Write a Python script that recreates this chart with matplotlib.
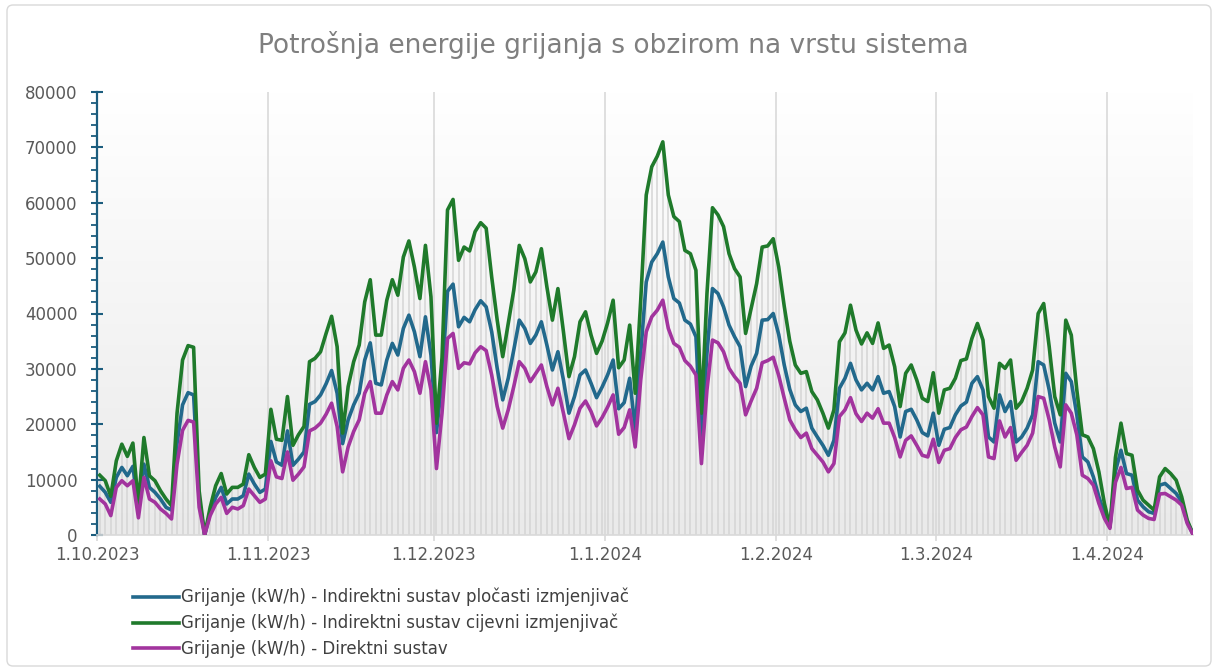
import numpy as np
import pandas as pd
import matplotlib
matplotlib.use("Agg")
import matplotlib.pyplot as plt
import matplotlib.dates as mdates
from matplotlib.colors import LinearSegmentedColormap
from matplotlib.lines import Line2D
from matplotlib.patches import FancyBboxPatch
from matplotlib.ticker import MultipleLocator

# daily values in thousands of kWh, starting 1.10.2023
start = pd.Timestamp("2023-10-01")

plocasti = [
    8.8, 7.7, 5.9, 10.4, 12.2, 10.7, 12.4, 4.7, 12.8, 8.6,
    7.7, 6.5, 5.0, 4.5, 16.5, 23.5, 25.7, 25.3, 6.5, 0.0,
    4.0, 6.8, 8.6, 5.6, 6.5, 6.5, 7.1, 11.0, 9.2, 7.7,
    8.3, 16.9, 13.2, 12.6, 18.8, 12.6, 13.7, 15.0, 23.6, 24.1,
    25.3, 27.3, 29.7, 25.6, 16.5, 20.8, 23.5, 25.6, 31.6, 34.7,
    27.4, 27.1, 31.6, 34.6, 32.5, 37.3, 39.7, 36.7, 32.2, 39.4,
    32.5, 18.5, 28.0, 44.0, 45.3, 37.6, 39.3, 38.5, 40.7, 42.3,
    41.2, 36.7, 30.1, 24.4, 28.3, 33.4, 38.8, 37.3, 34.6, 36.1,
    38.5, 34.3, 29.8, 33.1, 28.0, 22.0, 25.0, 28.9, 29.8, 27.4,
    24.8, 26.7, 28.9, 31.6, 22.8, 23.9, 28.3, 19.0, 32.8, 45.7,
    49.3, 50.8, 52.9, 46.6, 42.7, 41.9, 38.8, 38.1, 35.8, 16.5,
    32.8, 44.5, 43.6, 41.2, 37.9, 35.8, 34.0, 26.8, 30.5, 32.8,
    38.8, 38.9, 40.0, 36.2, 30.7, 26.3, 23.5, 22.3, 22.9, 19.3,
    17.7, 16.2, 14.4, 17.1, 26.5, 28.3, 31.0, 28.0, 26.2, 27.4,
    26.2, 28.6, 25.6, 25.9, 23.2, 17.7, 22.3, 22.7, 20.8, 18.5,
    17.9, 22.0, 16.2, 19.1, 19.4, 21.7, 23.3, 24.0, 27.4, 28.6,
    26.2, 17.7, 16.8, 25.3, 22.3, 24.1, 16.8, 17.7, 19.3, 21.7,
    31.3, 30.7, 26.2, 20.2, 16.8, 29.2, 27.7, 21.7, 14.1, 13.2,
    10.5, 6.9, 3.9, 1.5, 11.5, 15.3, 11.1, 10.8, 6.3, 5.1,
    4.2, 3.9, 9.0, 9.3, 8.4, 7.5, 6.0, 2.4, 0.3,
]

cijevni = [
    10.8, 9.8, 7.0, 13.4, 16.4, 14.2, 16.6, 5.5, 17.6, 10.7,
    9.8, 8.0, 6.5, 5.3, 22.0, 31.6, 34.2, 33.9, 8.0, 0.0,
    5.0, 8.9, 11.1, 7.4, 8.6, 8.6, 9.2, 14.5, 12.2, 10.4,
    11.0, 22.7, 17.3, 17.1, 25.0, 16.2, 18.1, 19.6, 31.3, 31.9,
    33.1, 36.4, 39.5, 34.0, 18.4, 26.8, 31.3, 34.3, 42.1, 46.1,
    36.1, 36.1, 42.4, 46.1, 43.3, 50.2, 53.1, 48.4, 42.7, 52.3,
    43.0, 20.2, 32.0, 58.7, 60.6, 49.6, 52.0, 51.3, 54.8, 56.4,
    55.4, 46.6, 38.8, 32.2, 38.2, 44.2, 52.3, 49.9, 45.7, 47.5,
    51.7, 44.8, 38.8, 44.5, 36.7, 28.6, 32.2, 38.5, 40.3, 36.1,
    32.8, 35.0, 38.3, 42.4, 30.2, 31.6, 37.9, 25.6, 42.4, 61.4,
    66.5, 68.4, 71.0, 61.4, 57.5, 56.6, 51.4, 50.8, 47.8, 22.0,
    43.6, 59.1, 57.8, 55.7, 50.8, 48.1, 46.6, 36.4, 40.9, 45.4,
    52.0, 52.2, 53.5, 48.4, 41.3, 35.0, 30.7, 29.2, 29.5, 25.9,
    24.4, 22.0, 19.3, 22.6, 34.9, 36.5, 41.5, 37.0, 34.5, 36.5,
    34.6, 38.3, 33.7, 34.3, 30.4, 23.2, 29.2, 30.7, 28.0, 24.7,
    24.1, 29.3, 22.0, 26.2, 26.5, 28.3, 31.5, 31.8, 35.5, 38.2,
    35.2, 25.0, 22.9, 31.0, 30.1, 31.6, 22.9, 24.1, 26.5, 29.8,
    40.0, 41.8, 34.0, 25.0, 21.7, 38.8, 36.1, 26.2, 18.1, 17.7,
    15.6, 11.4, 5.7, 1.5, 14.0, 20.2, 14.7, 14.4, 8.1, 6.3,
    5.4, 4.5, 10.5, 12.0, 11.1, 9.9, 6.9, 2.7, 0.3,
]

direktni = [
    6.5, 5.6, 3.5, 8.6, 9.8, 8.9, 9.8, 3.1, 10.4, 6.5,
    5.9, 4.7, 3.9, 2.9, 12.8, 18.9, 20.7, 20.4, 5.0, 0.0,
    3.5, 5.6, 6.8, 3.9, 5.0, 4.7, 5.3, 8.3, 7.1, 5.9,
    6.5, 13.4, 10.5, 10.2, 15.0, 9.9, 11.0, 12.3, 18.8, 19.3,
    20.2, 21.8, 23.8, 19.6, 11.4, 15.9, 18.7, 20.8, 25.6, 27.7,
    22.0, 22.0, 25.3, 27.7, 26.2, 30.1, 31.6, 29.5, 25.6, 31.3,
    26.2, 12.0, 22.0, 35.5, 36.4, 30.1, 31.1, 30.9, 32.9, 34.0,
    33.3, 28.9, 23.2, 19.3, 22.6, 26.8, 31.3, 30.1, 27.7, 29.2,
    30.7, 26.8, 23.5, 26.5, 22.0, 17.4, 19.9, 22.9, 24.2, 22.3,
    19.7, 21.2, 23.1, 25.3, 18.2, 19.4, 22.6, 15.9, 28.0, 36.7,
    39.4, 40.6, 42.4, 37.3, 34.6, 33.9, 31.5, 30.5, 28.9, 12.9,
    26.2, 35.2, 34.7, 33.1, 30.1, 28.6, 27.4, 21.7, 24.2, 26.5,
    31.1, 31.5, 32.1, 28.8, 24.7, 20.8, 19.0, 17.6, 18.4, 15.6,
    14.4, 13.2, 11.4, 12.9, 21.4, 22.6, 24.8, 21.9, 20.5, 22.0,
    21.1, 22.8, 20.2, 20.2, 17.6, 14.1, 17.1, 17.9, 16.2, 14.4,
    14.1, 17.3, 13.1, 15.3, 15.6, 17.6, 19.0, 19.5, 21.4, 23.0,
    21.7, 14.1, 13.8, 20.6, 17.7, 19.4, 13.5, 14.9, 16.2, 18.4,
    25.0, 24.7, 20.8, 15.9, 12.3, 23.5, 22.0, 18.1, 10.8, 10.2,
    9.0, 5.7, 3.0, 1.2, 9.5, 12.2, 8.4, 8.6, 4.5, 3.6,
    3.0, 2.8, 7.4, 7.5, 6.9, 6.3, 5.4, 2.1, 0.2,
]

labels = [
    "Grijanje (kW/h) - Indirektni sustav pločasti izmjenjivač",
    "Grijanje (kW/h) - Indirektni sustav cijevni izmjenjivač",
    "Grijanje (kW/h) - Direktni sustav",
]
colors = ["#22698c", "#1f7a2b", "#a2349e"]
title = "Potrošnja energije grijanja s obzirom na vrstu sistema"

series = [np.array(s) * 1000 for s in (plocasti, cijevni, direktni)]
n = len(cijevni)
days = pd.date_range(start, periods=n, freq="D") + pd.Timedelta(hours=12)
x = mdates.date2num(days)
months = pd.date_range(start, "2024-04-01", freq="MS")

W, H = 1218, 671
fig = plt.figure(figsize=(W / 100, H / 100), dpi=100)
left, right, top, bottom = 97, 1193, 92, 535
ax = fig.add_axes([left / W, 1 - bottom / H, (right - left) / W, (bottom - top) / H])

# outer chart border
fig.patches.append(FancyBboxPatch((7, 5), 1204, 661, boxstyle="round,pad=0,rounding_size=6",
                                  transform=None, ec="#d9d9d9", fc="none", lw=1))

# gradient plot background
grad = LinearSegmentedColormap.from_list("bg", ["#ffffff", "#eaeaea"])
ax.imshow(np.linspace(0, 1, 256).reshape(-1, 1), cmap=grad, aspect="auto",
          extent=[0, 1, 0, 1], transform=ax.transAxes, zorder=0)

# drop lines
top_vals = np.maximum.reduce(series)
ax.vlines(x, 0, top_vals, color="#d5d5d5", lw=1.1, zorder=1)

for s, c, lab in zip(series, colors, labels):
    ax.plot(x, s, color=c, lw=2.6, solid_joinstyle="round", zorder=3, label=lab)

x0 = mdates.date2num(pd.Timestamp(start))
ax.set_xlim(x0, x0 + n - 0.45)
ax.set_ylim(0, 80000)

ax.set_xticks(mdates.date2num(months))
ax.set_xticklabels([f"{d.day}.{d.month}.{d.year}" for d in months])
ax.grid(axis="x", color="#d9d9d9", lw=1.2, zorder=0.5)
ax.yaxis.set_major_locator(MultipleLocator(10000))
ax.yaxis.set_minor_locator(MultipleLocator(2000))

axis_blue = "#1c5d7e"
ax.tick_params(axis="y", which="major", direction="inout", length=8, width=1.5,
               color=axis_blue, labelcolor="#595959", labelsize=12, pad=10)
ax.tick_params(axis="y", which="minor", direction="out", length=4, width=1.3, color=axis_blue)
ax.tick_params(axis="x", direction="out", length=4, width=1.2, color="#d9d9d9",
               labelcolor="#595959", labelsize=12, pad=4)

for sp in ("top", "right"):
    ax.spines[sp].set_visible(False)
ax.spines["left"].set_color(axis_blue)
ax.spines["left"].set_linewidth(1.6)
ax.spines["bottom"].set_color("#d9d9d9")
ax.spines["bottom"].set_linewidth(1.2)

fig.text(613.5 / W, 1 - 45 / H, title, ha="center", va="center", fontsize=19, color="#7f7f7f")

handles = [Line2D([], [], color=c, lw=2.6) for c in colors]
fig.legend(handles, labels, loc="upper left", bbox_to_anchor=(133 / W, 1 - 588 / H),
           frameon=False, fontsize=12, labelcolor="#404040", handlelength=2.75,
           handletextpad=0.15, labelspacing=0.45, borderpad=0, borderaxespad=0)

fig.savefig("out.png", dpi=100)
